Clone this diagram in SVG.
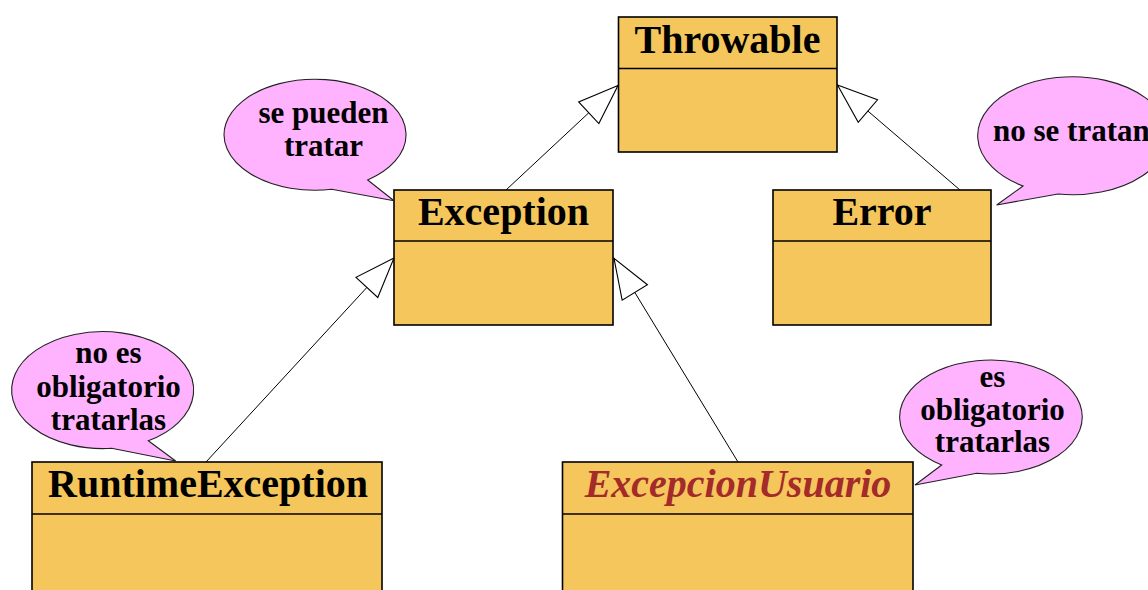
<svg xmlns="http://www.w3.org/2000/svg" width="1148" height="590" viewBox="0 0 1148 590">
  <style>
    .box { fill: #F4C65B; stroke: #000; stroke-width: 1.6; }
    .div { stroke: #000; stroke-width: 1.6; }
    .title { font-family: "Liberation Serif", "Times New Roman", serif; font-weight: bold; font-size: 40px; fill: #000; text-anchor: middle; }
    .italic { font-style: italic; fill: #A52A2A; }
    .bubble { fill: #FFB3FF; stroke: #222; stroke-width: 1.1; }
    .btext { font-family: "Liberation Serif", "Times New Roman", serif; font-weight: bold; font-size: 31px; fill: #000; text-anchor: middle; }
    .conn { stroke: #000; stroke-width: 1; fill: none; }
  </style>
  <defs>
    <marker id="tri" markerUnits="userSpaceOnUse" viewBox="-42 -17 44 34" markerWidth="44" markerHeight="34" refX="0" refY="0" orient="auto">
      <path d="M0,0 L-40,-14.8 L-40,14.8 Z" fill="#fff" stroke="#000" stroke-width="1.1" stroke-linejoin="miter"/>
    </marker>
  </defs>
  <rect width="1148" height="590" fill="#fff"/>

  <g id="connectors">
    <line class="conn" x1="506" y1="190" x2="618" y2="85.5" marker-end="url(#tri)"/>
    <line class="conn" x1="960" y1="190" x2="837.5" y2="85" marker-end="url(#tri)"/>
    <line class="conn" x1="206" y1="462" x2="394" y2="258" marker-end="url(#tri)"/>
    <line class="conn" x1="738" y1="462" x2="614" y2="258.3" marker-end="url(#tri)"/>
  </g>

  <g id="throwable">
    <rect class="box" x="618.5" y="17" width="218.5" height="135"/>
    <line class="div" x1="618.5" y1="68.5" x2="837" y2="68.5"/>
    <text class="title" x="727.5" y="53">Throwable</text>
  </g>

  <g id="exception">
    <rect class="box" x="394" y="190" width="219" height="135"/>
    <line class="div" x1="394" y1="241" x2="613" y2="241"/>
    <text class="title" x="503.5" y="225">Exception</text>
  </g>

  <g id="error">
    <rect class="box" x="773" y="190" width="218" height="135"/>
    <line class="div" x1="773" y1="241" x2="991" y2="241"/>
    <text class="title" x="882" y="225">Error</text>
  </g>

  <g id="runtimeexception">
    <rect class="box" x="32" y="462" width="350" height="140"/>
    <line class="div" x1="32" y1="514" x2="382" y2="514"/>
    <text class="title" x="208" y="497">RuntimeException</text>
  </g>

  <g id="excepcionusuario">
    <rect class="box" x="562.5" y="462" width="350.5" height="140"/>
    <line class="div" x1="562.5" y1="514" x2="913" y2="514"/>
    <text class="title italic" x="738" y="497">ExcepcionUsuario</text>
  </g>

  <g id="note-se-pueden-tratar">
    <path class="bubble" d="M367.7,180 L394,200.7 L331.7,189.3 A91,55.5 0 1 1 367.7,180 Z"/>
    <text class="btext" x="323.5" y="122.5">se pueden</text>
    <text class="btext" x="323.5" y="155.5">tratar</text>
  </g>

  <g id="note-no-se-tratan">
    <path class="bubble" d="M1023,186 L996.7,205 L1058,194 A95,59 0 1 0 1023,186 Z"/>
    <text class="btext" x="993" y="141" style="text-anchor:start">no se tratan</text>
  </g>

  <g id="note-no-es-obligatorio">
    <path class="bubble" d="M148.3,440.7 L175.7,461 L111.7,448.3 A91,58.5 0 1 1 148.3,440.7 Z"/>
    <text class="btext" x="108.5" y="363">no es</text>
    <text class="btext" x="108.5" y="396.5">obligatorio</text>
    <text class="btext" x="108.5" y="430">tratarlas</text>
  </g>

  <g id="note-es-obligatorio">
    <path class="bubble" d="M941.7,465 L915,485 L976.7,473.3 A91.3,57 0 1 0 941.7,465 Z"/>
    <text class="btext" x="992.5" y="387">es</text>
    <text class="btext" x="992.5" y="420">obligatorio</text>
    <text class="btext" x="992.5" y="452">tratarlas</text>
  </g>
</svg>
